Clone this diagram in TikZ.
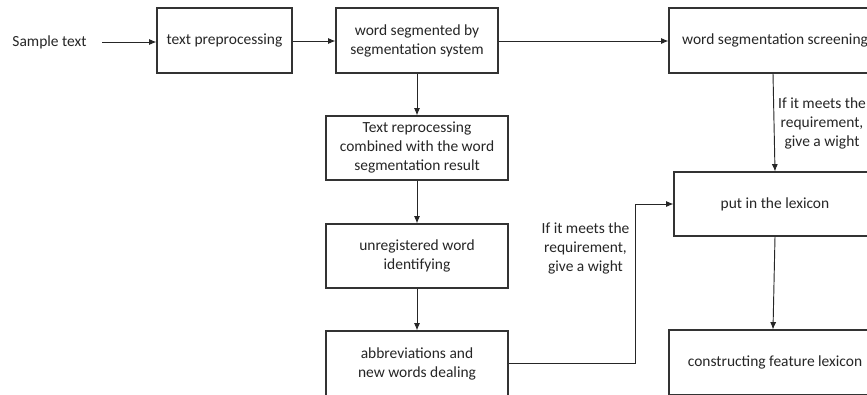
\documentclass[tikz,border=0pt]{standalone}
\usepackage{fontspec}
\setmainfont{Carlito}
\usetikzlibrary{arrows.meta,calc}
\begin{document}
\begin{tikzpicture}[x=0.75pt,y=-0.75pt,
  every node/.style={font=\fontsize{11.6pt}{14.25pt}\selectfont, text=black!85},
  box/.style={draw=black!80, line width=0.8pt, align=center, inner sep=0pt, minimum height=48.75pt},
  lbl/.style={align=center, inner sep=0pt},
  arr/.style={draw=black!85, line width=0.7pt, -{Latex[length=5.5pt,width=4.5pt]}},
  ln/.style={draw=black!85, line width=0.7pt}]
\useasboundingbox (0,0) rectangle (867,394);
\clip (0,0) rectangle (867,394);
\fill[white] (0,0) rectangle (867,394);
\node[lbl] (sample) at (49.5,42) {Sample text};
\node[box, minimum width=101.25pt] (pre) at (224.5,40.5) {text preprocessing};
\node[box, minimum width=121.5pt] (seg) at (417,40.5) {word segmented by\\segmentation system};
\node[box, minimum width=159pt] (screen) at (775,40.5) {word segmentation screening};
\node[box, minimum width=136.5pt, minimum height=48pt] (reproc) at (417,148) {Text reprocessing\\combined with the word\\segmentation result};
\node[box, minimum width=136.5pt, minimum height=48pt] (unreg) at (417,256) {unregistered word\\identifying};
\node[box, minimum width=136.5pt] (abbr) at (417,363.5) {abbreviations and\\new words dealing};
\node[box, minimum width=151.5pt, minimum height=48pt] (lex) at (775,204) {put in the lexicon};
\node[box, minimum width=159pt] (cons) at (775,362.5) {constructing feature lexicon};
\node[lbl] (lblL) at (585.5,248) {If it meets the\\requirement,\\give a wight};
\node[lbl] (lblR) at (822,123) {If it meets the\\requirement,\\give a wight};
\coordinate (bend1) at (635,363);
\coordinate (bend2) at (635,204);
\draw[arr] (102,42) -- (pre.west |- 0,42);
\draw[arr] (pre.east |- 0,41) -- (seg.west |- 0,41);
\draw[arr] (seg.east |- 0,41) -- (screen.west |- 0,41);
\draw[arr] (seg.south) -- (reproc.north);
\draw[arr] (reproc.south) -- (unreg.north);
\draw[arr] (unreg.south) -- (abbr.north);
\draw[arr] (abbr.east |- bend1) -- (bend1) -- (bend2) -- (lex.west);
\draw[arr] ([xshift=-1.5pt]screen.south) -- (lex.north);
\draw[arr] (lex.south) -- ([xshift=-1.5pt]cons.north);
\end{tikzpicture}
\end{document}
